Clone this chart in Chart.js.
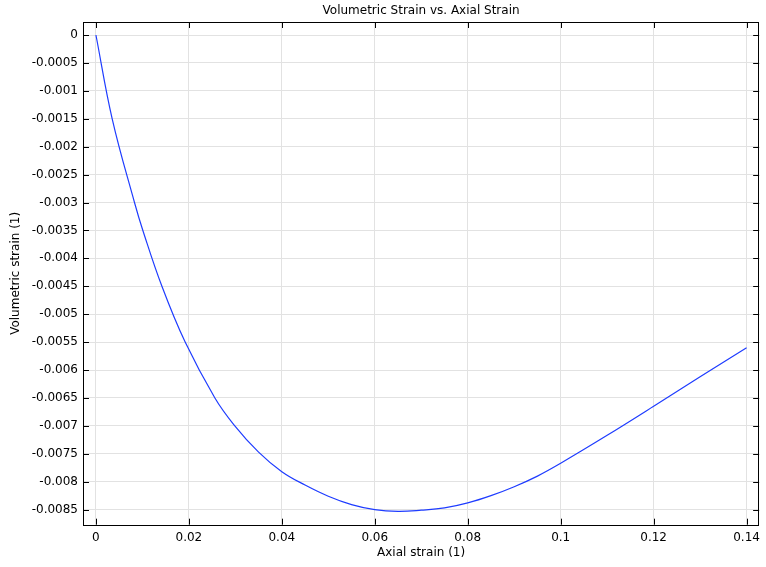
<!DOCTYPE html>
<html>
<head>
<meta charset="utf-8">
<script src="https://cdn.jsdelivr.net/npm/chart.js@4/dist/chart.umd.min.js"></script>
<style>
  html, body { margin: 0; padding: 0; background: #fff; }
  canvas { display: block; }
</style>
</head>
<body>
<canvas id="strain-chart" width="766" height="567"></canvas>
<script>
// values
const axialStrain = [0, 0.0035, 0.0083, 0.0101, 0.0142, 0.0192, 0.0256, 0.0297, 0.035, 0.04,
    0.045, 0.05, 0.055, 0.06, 0.065, 0.07, 0.075, 0.08, 0.085, 0.09, 0.095, 0.1,
    0.11, 0.12, 0.13, 0.14];
const volumetricStrain = [0, -0.0015, -0.003, -0.0035, -0.0045, -0.0055, -0.0065, -0.00698, -0.00747, -0.00782,
    -0.00806, -0.00826, -0.00841, -0.0085, -0.00853, -0.00851, -0.00847, -0.00838, -0.00825, -0.00809, -0.0079, -0.00767,
    -0.00717, -0.00665, -0.00612, -0.0056];

const xTicks = [0, 0.02, 0.04, 0.06, 0.08, 0.1, 0.12, 0.14];
const xTickLabels = ["0", "0.02", "0.04", "0.06", "0.08", "0.1", "0.12", "0.14"];
const yTicks = [0, -0.0005, -0.001, -0.0015, -0.002, -0.0025, -0.003, -0.0035, -0.004, -0.0045,
    -0.005, -0.0055, -0.006, -0.0065, -0.007, -0.0075, -0.008, -0.0085];
const yTickLabels = ["0", "-0.0005", "-0.001", "-0.0015", "-0.002", "-0.0025", "-0.003", "-0.0035", "-0.004", "-0.0045",
    "-0.005", "-0.0055", "-0.006", "-0.0065", "-0.007", "-0.0075", "-0.008", "-0.0085"];

const FONT = "'DejaVu Sans', sans-serif";
const TICK_LEN = 6;

// frame, inward ticks on all four sides, and the title centred on the plot
const framePlugin = {
    id: 'frame',
    afterDraw(chart) {
        const ctx = chart.ctx;
        const area = chart.chartArea;
        const xs = chart.scales.x;
        const ys = chart.scales.y;
        ctx.save();
        ctx.strokeStyle = '#000';
        ctx.lineWidth = 1;
        ctx.beginPath();
        xs.ticks.forEach(t => {
            let px = Math.round(xs.getPixelForValue(t.value)) + 0.5;
            ctx.moveTo(px, area.bottom);
            ctx.lineTo(px, area.bottom - TICK_LEN);
            ctx.moveTo(px, area.top);
            ctx.lineTo(px, area.top + TICK_LEN);
        });
        ys.ticks.forEach(t => {
            let py = Math.round(ys.getPixelForValue(t.value)) + 0.5;
            ctx.moveTo(area.left, py);
            ctx.lineTo(area.left + TICK_LEN, py);
            ctx.moveTo(area.right, py);
            ctx.lineTo(area.right - TICK_LEN, py);
        });
        ctx.stroke();
        ctx.strokeRect(Math.round(area.left) + 0.5, Math.round(area.top) + 0.5,
            Math.round(area.right - area.left) - 1, Math.round(area.bottom - area.top));

        ctx.fillStyle = '#000';
        ctx.font = '12px ' + FONT;
        ctx.textAlign = 'center';
        ctx.textBaseline = 'middle';
        ctx.fillText('Volumetric Strain vs. Axial Strain', (area.left + area.right) / 2, 11);
        ctx.restore();
    }
};

let ctx = document.getElementById('strain-chart').getContext('2d');

new Chart(ctx, {
    type: 'line',
    data: {
        datasets: [{
            data: axialStrain.map((x, i) => ({ x: x, y: volumetricStrain[i] })),
            borderColor: 'rgb(30, 60, 255)',
            borderWidth: 1.2,
            pointRadius: 0,
            fill: false,
            tension: 0.4
        }]
    },
    options: {
        responsive: false,
        animation: false,
        layout: { padding: { top: 22, right: 3, left: 0, bottom: 0 } },
        plugins: {
            legend: { display: false },
            tooltip: { enabled: false }
        },
        scales: {
            x: {
                type: 'linear',
                min: -0.00278,
                max: 0.1427,
                afterBuildTicks: scale => { scale.ticks = xTicks.map(v => ({ value: v })); },
                afterFit: scale => { scale.height = 42.3; },
                ticks: {
                    color: '#000',
                    padding: 6,
                    maxRotation: 0,
                    font: { family: FONT, size: 12 },
                    callback: (value, index) => xTickLabels[index]
                },
                grid: { color: '#e2e2e2', drawTicks: false },
                border: { display: false },
                title: {
                    display: true,
                    text: 'Axial strain (1)',
                    color: '#000',
                    font: { family: FONT, size: 12 },
                    padding: { top: 7, bottom: 7 }
                }
            },
            y: {
                type: 'linear',
                min: -0.00877,
                max: 0.000233,
                afterBuildTicks: scale => { scale.ticks = yTicks.map(v => ({ value: v })); },
                afterFit: scale => { scale.width = 83; },
                ticks: {
                    color: '#000',
                    padding: 5,
                    font: { family: FONT, size: 12 },
                    callback: (value, index) => yTickLabels[index]
                },
                grid: { color: '#e2e2e2', drawTicks: false },
                border: { display: false },
                title: {
                    display: true,
                    text: 'Volumetric strain (1)',
                    color: '#000',
                    font: { family: FONT, size: 12 },
                    padding: { top: 9, bottom: 0 }
                }
            }
        }
    },
    plugins: [framePlugin]
});
</script>
</body>
</html>
